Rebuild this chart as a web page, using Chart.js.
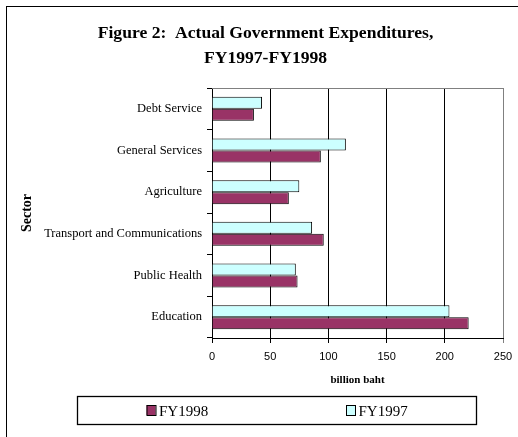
<!DOCTYPE html>
<html>
<head>
<meta charset="utf-8">
<script src="https://cdn.jsdelivr.net/npm/chart.js@4.4.0/dist/chart.umd.min.js"></script>
<style>
  html, body { margin:0; padding:0; background:#fff; overflow:hidden; }
  #frame { position:absolute; left:6px; top:6px; width:530px; height:440px;
           border-left:1px solid #000; border-top:1px solid #000; }
  #chart { display:block; }
</style>
</head>
<body>
<div id="frame"><canvas id="chart" width="517" height="430"></canvas></div>
<script>
// sectors listed top to bottom
const sectors = ['Debt Service', 'General Services', 'Agriculture', 'Transport and Communications', 'Public Health', 'Education'];
const fy1997 = [43, 115, 75, 86, 72, 204];
const fy1998 = [36, 93.5, 66, 96, 73.5, 220.5];
const xTicks = [0, 50, 100, 150, 200, 250];

const serif = "'Liberation Serif', 'Times New Roman', serif";
const sans = "'Liberation Sans', Arial, sans-serif";

// gray frame line along the top of the plot
const plotTop = {
  id: 'plotTop',
  beforeDatasetsDraw(chart) {
    const {ctx, chartArea: a} = chart;
    ctx.save();
    ctx.strokeStyle = '#808080';
    ctx.lineWidth = 1;
    ctx.beginPath();
    ctx.moveTo(a.left, Math.round(a.top) + 0.5);
    ctx.lineTo(a.right, Math.round(a.top) + 0.5);
    ctx.stroke();
    ctx.restore();
  }
};

// boxed legend under the axis, FY1998 first
const boxLegend = {
  id: 'boxLegend',
  afterDraw(chart) {
    const ctx = chart.ctx;
    const bx = 70, by = 389, bw = 399, bh = 28;
    ctx.save();
    ctx.strokeStyle = '#000';
    ctx.lineWidth = 1.3;
    ctx.strokeRect(bx + 0.5, by + 0.5, bw, bh);
    const sets = chart.data.datasets.slice().reverse();
    const half = bw / sets.length;
    ctx.font = '15px ' + serif;
    ctx.textBaseline = 'alphabetic';
    ctx.textAlign = 'left';
    ctx.lineWidth = 1;
    sets.forEach((ds, i) => {
      const x = bx + half * i + 69.5;
      ctx.fillStyle = ds.backgroundColor;
      ctx.fillRect(x, by + 9, 9, 10);
      ctx.strokeStyle = '#000';
      ctx.strokeRect(x + 0.5, by + 9.5, 9, 10);
      ctx.fillStyle = '#000';
      ctx.fillText(ds.label, x + 12.5, by + 20);
    });
    ctx.restore();
  }
};

new Chart(document.getElementById('chart'), {
  type: 'bar',
  data: {
    labels: sectors,
    datasets: [
      { label: 'FY1997', data: fy1997, backgroundColor: '#CCFFFF', borderColor: '#000', borderWidth: 1 },
      { label: 'FY1998', data: fy1998, backgroundColor: '#993366', borderColor: '#000', borderWidth: 1 }
    ]
  },
  options: {
    indexAxis: 'y',
    responsive: false,
    animation: false,
    categoryPercentage: 0.575,
    barPercentage: 1,
    // equal side padding keeps the title centred on the whole frame
    layout: { padding: { left: 21, top: 0, right: 21, bottom: 44 } },
    plugins: {
      legend: { display: false },
      tooltip: { enabled: false },
      title: {
        display: true,
        text: ['Figure 2:  Actual Government Expenditures,', 'FY1997-FY1998'],
        color: '#000',
        font: { family: serif, size: 17.6, weight: 'bold', lineHeight: 25 / 17.6 },
        padding: { top: 14, bottom: 17 }
      }
    },
    scales: {
      x: {
        min: 0, max: 250,
        afterBuildTicks: s => { s.ticks = xTicks.map(v => ({ value: v })); },
        afterFit: s => { s.height = 55; },
        ticks: { color: '#000', font: { family: sans, size: 11 }, padding: 7 },
        grid: {
          color: c => (c.tick && c.tick.value === xTicks[xTicks.length - 1]) ? '#808080' : '#000',
          tickLength: 5
        },
        border: { color: '#000' },
        title: {
          display: true, text: 'billion baht', color: '#000',
          font: { family: serif, size: 11, weight: 'bold' },
          padding: { top: 0, bottom: 6 }
        }
      },
      y: {
        afterFit: s => { s.width = 184; },
        ticks: { color: '#000', font: { family: serif, size: 12.5 }, padding: 5, autoSkip: false },
        grid: { drawOnChartArea: false, color: '#000', tickLength: 5, offset: true },
        border: { color: '#000' },
        title: {
          display: true, text: 'Sector', color: '#000',
          font: { family: serif, size: 14, weight: 'bold' },
          padding: { top: -9, bottom: 0 }
        }
      }
    }
  },
  plugins: [plotTop, boxLegend]
});
</script>
</body>
</html>
